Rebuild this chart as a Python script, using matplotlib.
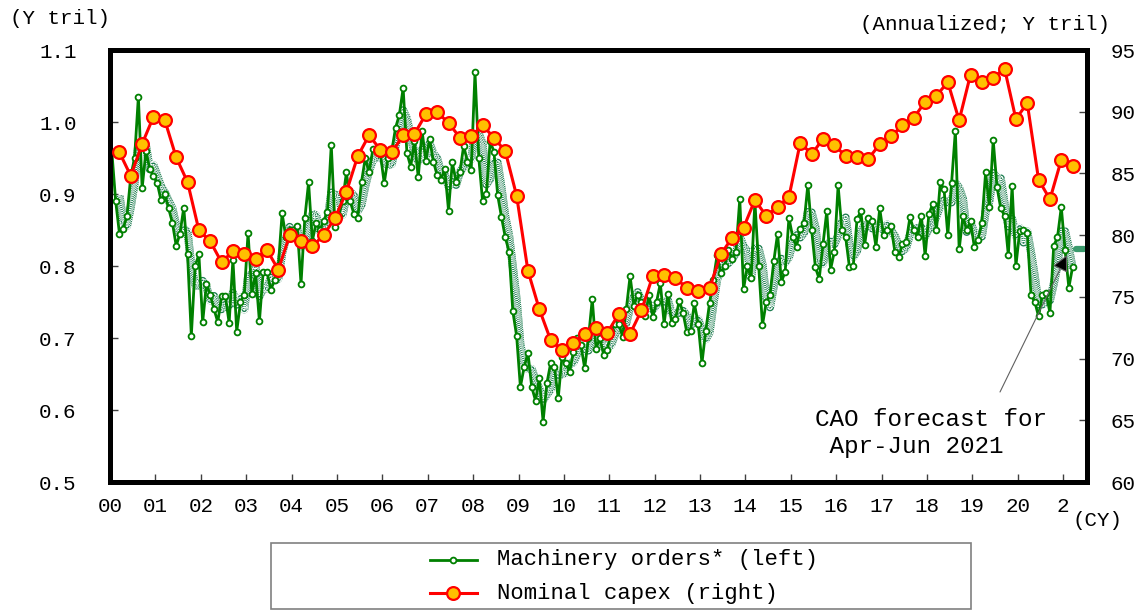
import numpy as np
import pandas as pd
import matplotlib
matplotlib.use("Agg")
import matplotlib.pyplot as plt
from matplotlib.lines import Line2D
from matplotlib.patches import Rectangle

# ---------------- data ----------------
# Machinery orders (Y tril), monthly Jan 2000 - Mar 2021
machinery_orders = [
    0.958, 0.89, 0.845, 0.852, 0.87, 0.925, 0.95, 1.035, 0.908, 0.96, 0.935, 0.925,   # 2000
    0.915, 0.891, 0.90, 0.88, 0.86, 0.828, 0.845, 0.881, 0.816, 0.703, 0.80, 0.816,  # 2001
    0.722, 0.775, 0.76, 0.74, 0.722, 0.758, 0.758, 0.721, 0.809, 0.709, 0.75, 0.76,  # 2002
    0.846, 0.761, 0.79, 0.723, 0.792, 0.792, 0.767, 0.78, 0.80, 0.873, 0.84, 0.85,   # 2003
    0.85, 0.855, 0.775, 0.866, 0.916, 0.835, 0.86, 0.85, 0.863, 0.875, 0.968, 0.854, # 2004
    0.87, 0.89, 0.93, 0.89, 0.872, 0.867, 0.917, 0.95, 0.93, 0.962, 0.96, 0.955,     # 2005
    0.915, 0.95, 0.96, 0.992, 1.01, 1.047, 0.957, 0.938, 0.974, 0.923, 0.988, 0.946, # 2006
    0.977, 0.945, 0.926, 0.92, 0.935, 0.877, 0.944, 0.917, 0.93, 0.967, 0.945, 0.934, # 2007
    1.069, 0.95, 0.89, 0.90, 0.973, 0.959, 0.898, 0.868, 0.84, 0.82, 0.737, 0.703,   # 2008
    0.632, 0.66, 0.679, 0.632, 0.613, 0.644, 0.584, 0.637, 0.665, 0.66, 0.616, 0.674, # 2009
    0.665, 0.653, 0.68, 0.70, 0.69, 0.658, 0.70, 0.754, 0.685, 0.70, 0.677, 0.684,   # 2010
    0.71, 0.72, 0.72, 0.702, 0.74, 0.786, 0.745, 0.76, 0.75, 0.73, 0.76, 0.729,      # 2011
    0.75, 0.776, 0.72, 0.761, 0.721, 0.726, 0.752, 0.735, 0.708, 0.71, 0.748, 0.72,  # 2012
    0.665, 0.71, 0.748, 0.78, 0.815, 0.79, 0.80, 0.822, 0.81, 0.82, 0.893, 0.768,    # 2013
    0.80, 0.783, 0.889, 0.80, 0.718, 0.75, 0.76, 0.807, 0.845, 0.778, 0.792, 0.867,  # 2014
    0.84, 0.827, 0.852, 0.86, 0.913, 0.85, 0.798, 0.782, 0.83, 0.876, 0.795, 0.82,   # 2015
    0.912, 0.85, 0.84, 0.798, 0.80, 0.865, 0.876, 0.829, 0.866, 0.862, 0.827, 0.88,  # 2016
    0.843, 0.85, 0.855, 0.82, 0.812, 0.83, 0.834, 0.868, 0.85, 0.84, 0.87, 0.814,   # 2017
    0.872, 0.886, 0.85, 0.916, 0.907, 0.843, 0.915, 0.988, 0.823, 0.869, 0.85, 0.862, # 2018
    0.827, 0.836, 0.86, 0.93, 0.882, 0.975, 0.91, 0.88, 0.87, 0.815, 0.911, 0.80,   # 2019
    0.848, 0.85, 0.846, 0.76, 0.75, 0.73, 0.76, 0.762, 0.735, 0.828, 0.84, 0.882,   # 2020
    0.822, 0.77, 0.799,                                                              # 2021
]

# Nominal capex (annualized, Y tril), quarterly 2000Q1 - 2021Q1
nominal_capex = [
    86.7, 84.8, 87.4, 89.6,
    89.3, 86.3, 84.3, 80.4,
    79.5, 77.8, 78.7, 78.5,
    78.1, 78.8, 77.2, 80.0,
    79.5, 79.1, 80.0, 81.4,
    83.5, 86.4, 88.1, 86.9,
    86.7, 88.1, 88.2, 89.8,
    89.95, 89.1, 87.9, 88.0,
    88.9, 87.9, 86.8, 83.2,
    77.1, 74.0, 71.5, 70.7,
    71.3, 72.0, 72.45, 72.1,
    73.6, 72.0, 73.9, 76.7,
    76.8, 76.55, 75.7, 75.5,
    75.7, 78.45, 79.8, 80.6,
    82.85, 81.55, 82.3, 83.1,
    87.5, 86.55, 87.8, 87.3,
    86.4, 86.3, 86.2, 87.35,
    88.0, 88.9, 89.5, 90.8,
    91.3, 92.4, 89.3, 93.0,
    92.4, 92.75, 93.5, 89.4,
    90.7, 84.5, 82.9, 86.1,
    85.6,
]

# CAO forecast for Apr-Jun 2021 (Y tril, monthly average)
cao_forecast = 0.824
forecast_months = 3

year_labels = ['00', '01', '02', '03', '04', '05', '06', '07', '08', '09', '10',
               '11', '12', '13', '14', '15', '16', '17', '18', '19', '20', '2']
left_ticks = [0.5, 0.6, 0.7, 0.8, 0.9, 1.0, 1.1]
right_ticks = [60, 65, 70, 75, 80, 85, 90, 95]

# ---------------- style ----------------
plt.rcParams['font.family'] = ['Liberation Mono', 'DejaVu Sans']
plt.rcParams['lines.scale_dashes'] = False

W, H = 1146, 610
fig = plt.figure(figsize=(W / 100, H / 100), dpi=100)
ax = fig.add_axes([110 / W, 1 - 482 / H, 977 / W, 432 / H])
ax2 = ax.twinx()

start_year = 2000
n_m = len(machinery_orders)
m_x = start_year + (np.arange(n_m) + 0.5) / 12
q_x = start_year + (np.arange(len(nominal_capex)) * 3 + 2.5) / 12
ma3 = pd.Series(machinery_orders).rolling(3).mean()

# 3-month moving average (checkered band): alternating dash layers
band_green = '#1d7d50'
ax.plot(m_x, ma3, color=band_green, lw=5.8, solid_capstyle='butt',
        solid_joinstyle='round', zorder=2)
ax.plot(m_x, ma3, color='white', lw=5.8, ls=(0, (0.75, 0.75)),
        dash_capstyle='butt', zorder=2.1)
ax.plot(m_x, ma3, color=band_green, lw=3.9, ls=(0, (0.75, 0.75)),
        dash_capstyle='butt', zorder=2.2)
ax.plot(m_x, ma3, color='white', lw=3.9, ls=(0.75, (0.75, 0.75)),
        dash_capstyle='butt', zorder=2.25)
ax.plot(m_x, ma3, color=band_green, lw=1.9, ls=(0.75, (0.75, 0.75)),
        dash_capstyle='butt', zorder=2.3)
ax.plot(m_x, ma3, color='white', lw=1.9, ls=(0, (0.75, 0.75)),
        dash_capstyle='butt', zorder=2.35)

# monthly machinery orders
ax.plot(m_x, machinery_orders, color='#008000', lw=2.0, marker='o', ms=4.2,
        mfc='white', mec='#008000', mew=1.3, zorder=3)

# CAO forecast dash
fc_x = start_year + (n_m + np.array([0.5, forecast_months - 0.5])) / 12
ax.plot(fc_x, [cao_forecast] * 2, color='#3a9a6c', lw=4.5,
        solid_capstyle='round', zorder=4, clip_on=False)

# quarterly nominal capex (right axis)
ax2.plot(q_x, nominal_capex, color='#ff0000', lw=2.2, marker='o', ms=9.2,
         mfc='#ffc000', mec='#ff0000', mew=1.6, zorder=3)

# ---------------- axes ----------------
ax.set_xlim(start_year, start_year + 258.3 / 12)
ax.set_ylim(0.5, 1.1)
ax2.set_ylim(60, 95)

ax.set_xticks(np.arange(start_year, start_year + len(year_labels)))
ax.set_xticklabels(year_labels)
ax.set_yticks(left_ticks)
ax.set_yticklabels([f"{v:.1f}" for v in left_ticks])
ax2.set_yticks(right_ticks)
ax2.set_yticklabels([str(v) for v in right_ticks])

ax.tick_params(axis='x', direction='in', length=6, width=1, color='#404040',
               pad=11, labelsize=15)
ax.tick_params(axis='y', direction='in', length=6, width=1, color='#404040',
               pad=24, labelsize=15)
ax2.tick_params(axis='y', direction='in', length=6, width=1, color='#404040',
                pad=17, labelsize=15)

for a in (ax, ax2):
    for s in a.spines.values():
        s.set_linewidth(3.6)
        s.set_color('black')

# ---------------- texts ----------------
fig.text(10 / W, 1 - 18 / H, '(Y tril)', fontsize=15, ha='left', va='center')
fig.text(1110 / W, 1 - 25 / H, '(Annualized; Y tril)', fontsize=15,
         ha='right', va='center')
fig.text(1073 / W, 1 - 521 / H, '(CY)', fontsize=15, ha='left', va='center')

fig.text(815 / W, 1 - 433 / H, 'CAO forecast for\n Apr-Jun 2021', fontsize=17.5,
         ha='left', va='center', linespacing=1.27)

ax.annotate('', xy=(1067, H - 255), xycoords='figure pixels',
            xytext=(1000, H - 392), textcoords='figure pixels',
            arrowprops=dict(arrowstyle='-|>,head_length=1.0,head_width=0.5',
                            lw=0.8, ec='#606060', fc='black',
                            shrinkA=0, shrinkB=0, mutation_scale=10))

# ---------------- legend ----------------
fig.add_artist(Rectangle((271 / W, 1 / H), (971 - 271) / W, (609 - 543) / H,
                         transform=fig.transFigure, fill=False,
                         ec='#808080', lw=1.2))
fig.add_artist(Line2D([430 / W, 477 / W], [1 - 560 / H] * 2, color='#008000',
                      lw=2.0, transform=fig.transFigure))
fig.add_artist(Line2D([453 / W], [1 - 560 / H], color='#008000', marker='o',
                      ms=4.2, mfc='white', mec='#008000', mew=1.3,
                      transform=fig.transFigure))
fig.add_artist(Line2D([430 / W, 477 / W], [1 - 593 / H] * 2, color='#ff0000',
                      lw=2.2, transform=fig.transFigure))
fig.add_artist(Line2D([453 / W], [1 - 593 / H], color='#ff0000', marker='o',
                      ms=9.2, mfc='#ffc000', mec='#ff0000', mew=1.6,
                      transform=fig.transFigure))
fig.text(497 / W, 1 - 560 / H, 'Machinery orders* (left)', fontsize=16,
         ha='left', va='center')
fig.text(497 / W, 1 - 593 / H, 'Nominal capex (right)', fontsize=16,
         ha='left', va='center')

fig.savefig('out.png', dpi=100)
